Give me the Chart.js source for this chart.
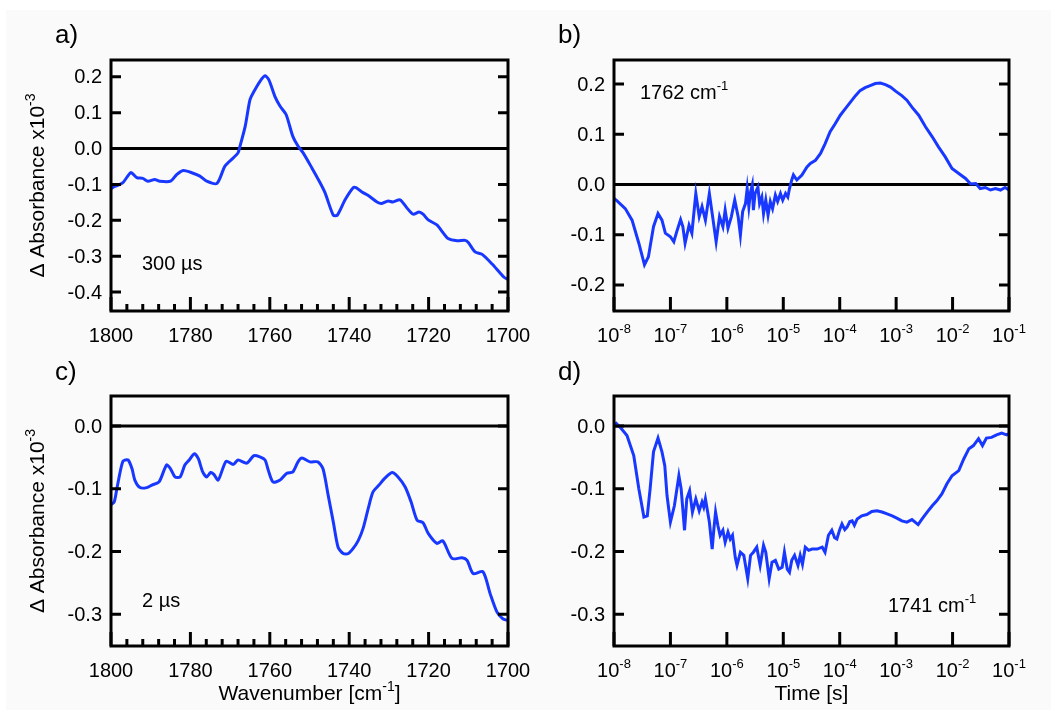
<!DOCTYPE html>
<html>
<head>
<meta charset="utf-8">
<title>Delta absorbance panels</title>
<script src="https://cdn.jsdelivr.net/npm/chart.js@4.4.0/dist/chart.umd.min.js"></script>
<style>
  html, body { margin: 0; padding: 0; background: #fff; }
  #page { position: relative; width: 1051px; height: 710px; background: #fff; overflow: hidden; }
  #sheet { position: absolute; left: 6px; top: 10px; right: 0; bottom: 0; background: #fafafa; }
  canvas { position: absolute; }
</style>
</head>
<body>
<div id="page">
  <div id="sheet"></div>
  <canvas id="chartB" width="526" height="355" style="left:525px;top:0"></canvas>
  <canvas id="chartD" width="526" height="355" style="left:525px;top:355px"></canvas>
  <canvas id="chartA" width="560" height="355" style="left:0;top:0"></canvas>
  <canvas id="chartC" width="560" height="355" style="left:0;top:355px"></canvas>
</div>
<script>
// a) spectrum at 300 µs
const wnA = [
  1800, 1799.5, 1797, 1795, 1793.5, 1792, 1790.7, 1789, 1787.7, 1785,
  1783.4, 1781.8, 1780, 1777.6, 1775.9, 1773.3, 1771.3, 1769.2, 1768, 1767.5,
  1766.2, 1765, 1764, 1762.5, 1761.2, 1760.2, 1758.7, 1757.4, 1755.9, 1754.2,
  1752.9, 1751.6, 1749.4, 1747.4, 1746.1, 1744, 1743, 1741, 1739, 1738.3,
  1736.8, 1735.2, 1733, 1731.8, 1730.2, 1729, 1727.2, 1725.5, 1723.9, 1722.4,
  1721.4, 1720.1, 1717.9, 1716.4, 1715.1, 1712.8, 1710.8, 1710, 1708.3, 1706.5,
  1704, 1701, 1700
];
const absA = [
  -0.112, -0.108, -0.095, -0.067, -0.081, -0.083, -0.091, -0.086, -0.091, -0.091,
  -0.072, -0.061, -0.066, -0.077, -0.091, -0.097, -0.049, -0.026, -0.012, 0.007,
  0.062, 0.136, 0.159, 0.187, 0.203, 0.191, 0.145, 0.118, 0.095, 0.034,
  0.007, -0.012, -0.054, -0.094, -0.123, -0.186, -0.186, -0.142, -0.109, -0.109,
  -0.121, -0.131, -0.149, -0.153, -0.146, -0.149, -0.143, -0.165, -0.183, -0.177,
  -0.183, -0.199, -0.213, -0.234, -0.251, -0.257, -0.256, -0.262, -0.288, -0.295,
  -0.322, -0.359, -0.365
];

// c) spectrum at 2 µs
const wnC = [
  1800, 1799.2, 1798.5, 1797, 1795.7, 1794.7, 1794, 1792.7, 1791, 1789.7,
  1787.9, 1786, 1785, 1783.9, 1782.6, 1781.4, 1780.3, 1779, 1778, 1776.9,
  1775.9, 1774.9, 1774.1, 1773, 1771, 1769.2, 1768, 1765.8, 1764, 1762.5,
  1761.2, 1760.4, 1759.2, 1757.4, 1755.7, 1754.2, 1752.9, 1751.9, 1749.9, 1747.9,
  1746.6, 1745.3, 1744, 1742.8, 1741.5, 1740.2, 1739, 1737.7, 1736.5, 1735.2,
  1734, 1732.5, 1731, 1729.2, 1727.7, 1725.9, 1724.4, 1722.9, 1721.4, 1720.1,
  1717.9, 1716.4, 1714.1, 1711.6, 1710.3, 1708.8, 1706.3, 1704.5, 1702.8, 1701.3,
  1700
];
const absC = [
  -0.125, -0.121, -0.099, -0.056, -0.054, -0.068, -0.086, -0.098, -0.098, -0.094,
  -0.089, -0.062, -0.068, -0.081, -0.081, -0.062, -0.054, -0.044, -0.052, -0.073,
  -0.081, -0.074, -0.077, -0.086, -0.056, -0.061, -0.054, -0.059, -0.047, -0.049,
  -0.054, -0.070, -0.089, -0.086, -0.075, -0.073, -0.057, -0.051, -0.057, -0.057,
  -0.068, -0.110, -0.153, -0.193, -0.203, -0.203, -0.195, -0.182, -0.163, -0.131,
  -0.105, -0.094, -0.083, -0.074, -0.081, -0.097, -0.121, -0.150, -0.154, -0.171,
  -0.187, -0.183, -0.211, -0.210, -0.214, -0.235, -0.232, -0.267, -0.296, -0.307,
  -0.310
];

// b) kinetics at 1762 cm-1 (time as log10 of seconds)
const logTimeB = [
  -8.00, -7.95, -7.80, -7.68, -7.56, -7.46, -7.39, -7.30, -7.22, -7.15,
  -7.09, -7.00, -6.94, -6.88, -6.82, -6.78, -6.74, -6.67, -6.62, -6.55,
  -6.49, -6.44, -6.38, -6.31, -6.26, -6.19, -6.13, -6.07, -6.03, -5.98,
  -5.92, -5.86, -5.80, -5.76, -5.72, -5.67, -5.64, -5.61, -5.58, -5.55,
  -5.53, -5.50, -5.45, -5.42, -5.38, -5.35, -5.31, -5.27, -5.23, -5.19,
  -5.14, -5.10, -5.05, -5.01, -4.96, -4.92, -4.89, -4.85, -4.82, -4.76,
  -4.67, -4.58, -4.52, -4.43, -4.34, -4.26, -4.17, -4.08, -3.99, -3.90,
  -3.81, -3.72, -3.64, -3.55, -3.46, -3.37, -3.28, -3.19, -3.10, -3.01,
  -2.90, -2.81, -2.72, -2.60, -2.48, -2.36, -2.25, -2.13, -2.01, -1.89,
  -1.77, -1.68, -1.59, -1.51, -1.42, -1.33, -1.24, -1.15, -1.07, -1.00
];
const absB = [
  -0.028, -0.032, -0.048, -0.071, -0.117, -0.160, -0.144, -0.084, -0.058, -0.071,
  -0.097, -0.104, -0.114, -0.091, -0.070, -0.084, -0.117, -0.081, -0.097, -0.018,
  -0.064, -0.044, -0.071, -0.018, -0.058, -0.114, -0.064, -0.084, -0.051, -0.087,
  -0.064, -0.031, -0.064, -0.101, -0.054, -0.038, -0.008, -0.044, -0.015, -0.001,
  -0.051, -0.018, -0.005, -0.038, -0.025, -0.058, -0.031, -0.061, -0.034, -0.048,
  -0.021, -0.034, -0.018, -0.031, -0.018, -0.025, -0.008, 0.009, 0.019, 0.009,
  0.019, 0.035, 0.042, 0.048, 0.062, 0.081, 0.105, 0.121, 0.138, 0.151,
  0.164, 0.177, 0.187, 0.193, 0.197, 0.201, 0.202, 0.199, 0.194, 0.186,
  0.177, 0.168, 0.154, 0.138, 0.115, 0.095, 0.075, 0.055, 0.032, 0.022,
  0.012, 0.001, 0.002, -0.008, -0.006, -0.011, -0.008, -0.011, -0.006, -0.011
];

// d) kinetics at 1741 cm-1
const logTimeD = [
  -7.98, -7.89, -7.77, -7.65, -7.56, -7.47, -7.41, -7.36, -7.30, -7.22,
  -7.15, -7.10, -7.06, -7.00, -6.93, -6.85, -6.81, -6.75, -6.71, -6.66,
  -6.61, -6.55, -6.49, -6.44, -6.41, -6.38, -6.34, -6.31, -6.26, -6.23,
  -6.20, -6.16, -6.12, -6.07, -6.03, -5.98, -5.94, -5.90, -5.85, -5.82,
  -5.76, -5.70, -5.63, -5.58, -5.53, -5.47, -5.41, -5.35, -5.31, -5.25,
  -5.20, -5.14, -5.08, -5.02, -4.98, -4.93, -4.89, -4.85, -4.80, -4.74,
  -4.70, -4.66, -4.61, -4.55, -4.49, -4.40, -4.31, -4.26, -4.20, -4.14,
  -4.09, -4.05, -4.00, -3.96, -3.91, -3.87, -3.82, -3.78, -3.74, -3.69,
  -3.61, -3.52, -3.43, -3.34, -3.25, -3.16, -3.07, -2.98, -2.90, -2.81,
  -2.72, -2.61, -2.54, -2.45, -2.36, -2.28, -2.19, -2.10, -2.01, -1.89,
  -1.80, -1.71, -1.63, -1.54, -1.47, -1.40, -1.31, -1.22, -1.13, -1.04,
  -1.00
];
const absD = [
  0.006, -0.002, -0.015, -0.047, -0.100, -0.145, -0.143, -0.100, -0.041, -0.019,
  -0.041, -0.063, -0.111, -0.153, -0.127, -0.079, -0.100, -0.166, -0.116, -0.103,
  -0.137, -0.116, -0.135, -0.121, -0.129, -0.116, -0.137, -0.153, -0.196, -0.164,
  -0.137, -0.158, -0.174, -0.166, -0.185, -0.169, -0.180, -0.174, -0.210, -0.222,
  -0.201, -0.206, -0.243, -0.206, -0.201, -0.193, -0.222, -0.190, -0.201, -0.243,
  -0.217, -0.214, -0.228, -0.225, -0.201, -0.228, -0.233, -0.214, -0.206, -0.222,
  -0.206, -0.220, -0.193, -0.198, -0.196, -0.196, -0.193, -0.201, -0.174, -0.166,
  -0.178, -0.180, -0.165, -0.156, -0.165, -0.161, -0.152, -0.151, -0.158, -0.148,
  -0.143, -0.141, -0.136, -0.135, -0.137, -0.140, -0.143, -0.147, -0.151, -0.153,
  -0.149, -0.157, -0.148, -0.137, -0.127, -0.119, -0.108, -0.092, -0.079, -0.071,
  -0.052, -0.036, -0.031, -0.020, -0.031, -0.019, -0.018, -0.014, -0.011, -0.014,
  -0.012
];

// tick labels
const yTicksA = [0.2, 0.1, 0.0, -0.1, -0.2, -0.3, -0.4];
const yTicksB = [0.2, 0.1, 0.0, -0.1, -0.2];
const yTicksCD = [0.0, -0.1, -0.2, -0.3];
const wnTicks = [1800, 1780, 1760, 1740, 1720, 1700];
const logTicks = [-8, -7, -6, -5, -4, -3, -2, -1];

const BLUE = '#1838ff';
const FONT = '"Liberation Sans", Arial, sans-serif';

// draws a run of text pieces, some raised as superscripts
function drawRich(ctx, parts, x, y, align) {
    let total = 0;
    parts.forEach(p => {
        ctx.font = p.size + 'px ' + FONT;
        p.w = ctx.measureText(p.t).width;
        total += p.w;
    });
    let cx = x;
    if (align === 'center') cx = x - total / 2;
    if (align === 'right') cx = x - total;
    ctx.textAlign = 'left';
    ctx.textBaseline = 'alphabetic';
    parts.forEach(p => {
        ctx.font = p.size + 'px ' + FONT;
        ctx.fillText(p.t, cx, y - (p.rise || 0));
        cx += p.w;
    });
}

const panelDecor = {
    id: 'panelDecor',
    beforeDatasetsDraw(chart, args, o) {
        const { ctx, chartArea: a } = chart;
        const y0 = chart.scales.y.getPixelForValue(0);
        ctx.save();
        ctx.strokeStyle = '#000';
        ctx.lineWidth = 3;
        ctx.beginPath();
        ctx.moveTo(a.left, y0);
        ctx.lineTo(a.right, y0);
        ctx.stroke();
        ctx.restore();
    },
    afterDatasetsDraw(chart, args, o) {
        const { ctx, chartArea: a } = chart;
        const xs = chart.scales.x, ys = chart.scales.y;
        ctx.save();
        ctx.strokeStyle = '#000';
        ctx.fillStyle = '#000';
        ctx.lineCap = 'butt';

        // y ticks, inward on both sides, labels on the left
        ctx.lineWidth = 3;
        o.yTicks.forEach(v => {
            const py = ys.getPixelForValue(v);
            ctx.beginPath();
            ctx.moveTo(a.left, py); ctx.lineTo(a.left + 10, py);
            ctx.moveTo(a.right, py); ctx.lineTo(a.right - 10, py);
            ctx.stroke();
            ctx.font = '20px ' + FONT;
            ctx.textAlign = 'right';
            ctx.textBaseline = 'middle';
            ctx.fillText(v.toFixed(1), a.left - 9, py + 1);
        });

        // x ticks
        if (o.log) {
            logTicks.forEach(e => {
                const px = xs.getPixelForValue(Math.pow(10, e));
                ctx.beginPath();
                ctx.moveTo(px, a.bottom); ctx.lineTo(px, a.bottom - 14);
                ctx.stroke();
                drawRich(ctx, [{ t: '10', size: 20 }, { t: String(e), size: 13, rise: 9 }],
                    px, a.bottom + 31, 'center');
            });
        } else {
            for (let w = 1800; w >= 1700; w -= 4) {
                const px = xs.getPixelForValue(w);
                const major = wnTicks.includes(w);
                ctx.beginPath();
                ctx.moveTo(px, a.bottom); ctx.lineTo(px, a.bottom - (major ? 14 : 7));
                ctx.stroke();
            }
            ctx.font = '20px ' + FONT;
            ctx.textAlign = 'center';
            ctx.textBaseline = 'alphabetic';
            wnTicks.forEach(w => {
                ctx.fillText(String(w), xs.getPixelForValue(w), a.bottom + 31);
            });
        }

        // frame
        ctx.lineWidth = 3;
        ctx.strokeRect(a.left, a.top, a.right - a.left, a.bottom - a.top);

        // panel letter
        ctx.font = '26px ' + FONT;
        ctx.textAlign = 'left';
        ctx.textBaseline = 'alphabetic';
        ctx.fillText(o.letter, o.letterPos[0], o.letterPos[1]);

        // annotation inside the plot
        drawRich(ctx, o.note, o.notePos[0], o.notePos[1], 'left');

        // y title
        if (o.yTitle) {
            ctx.save();
            ctx.translate(44, (a.top + a.bottom) / 2);
            ctx.rotate(-Math.PI / 2);
            drawRich(ctx, [{ t: '\u0394 Absorbance x10', size: 21 }, { t: '-3', size: 14, rise: 9 }], 0, 0, 'center');
            ctx.restore();
        }

        // x title
        if (o.xTitle) {
            drawRich(ctx, o.xTitle, (a.left + a.right) / 2, o.xTitleY, 'center');
        }
        ctx.restore();
    }
};

function makeChart(id, points, xScale, yMin, yMax, pad, decor, tension) {
    return new Chart(document.getElementById(id), {
        type: 'line',
        data: {
            datasets: [{
                data: points,
                borderColor: BLUE,
                borderWidth: 3,
                pointRadius: 0,
                tension: tension,
                fill: false
            }]
        },
        options: {
            responsive: false,
            animation: false,
            devicePixelRatio: 1,
            layout: { padding: pad },
            plugins: {
                legend: { display: false },
                tooltip: { enabled: false },
                panelDecor: decor
            },
            scales: {
                x: Object.assign({ display: false }, xScale),
                y: { type: 'linear', display: false, min: yMin, max: yMax }
            }
        },
        plugins: [panelDecor]
    });
}

const wnScale = { type: 'linear', min: 1700, max: 1800, reverse: true };
const logScale = { type: 'logarithmic', min: 1e-8, max: 1e-1 };

const ptsA = wnA.map((w, i) => ({ x: w, y: absA[i] }));
const ptsC = wnC.map((w, i) => ({ x: w, y: absC[i] }));
const ptsB = logTimeB.map((e, i) => ({ x: Math.pow(10, e), y: absB[i] }));
const ptsD = logTimeD.map((e, i) => ({ x: Math.pow(10, e), y: absD[i] }));

makeChart('chartA', ptsA, wnScale, -0.453, 0.247,
    { left: 111, top: 60, right: 52, bottom: 44 },
    { letter: 'a)', letterPos: [55, 43], yTicks: yTicksA, log: false, yTitle: true,
      note: [{ t: '300 \u00b5s', size: 20 }], notePos: [142, 270] }, 0.25);

makeChart('chartB', ptsB, logScale, -0.252, 0.248,
    { left: 89, top: 60, right: 42, bottom: 44 },
    { letter: 'b)', letterPos: [33, 43], yTicks: yTicksB, log: true, yTitle: false,
      note: [{ t: '1762 cm', size: 20 }, { t: '-1', size: 13, rise: 9 }], notePos: [115, 99] }, 0);

makeChart('chartC', ptsC, wnScale, -0.3505, 0.048,
    { left: 111, top: 41, right: 52, bottom: 64 },
    { letter: 'c)', letterPos: [55, 25], yTicks: yTicksCD, log: false, yTitle: true,
      note: [{ t: '2 \u00b5s', size: 20 }], notePos: [142, 252],
      xTitle: [{ t: 'Wavenumber [cm', size: 21 }, { t: '-1', size: 14, rise: 9 }, { t: ']', size: 21 }], xTitleY: 345 }, 0.25);

makeChart('chartD', ptsD, logScale, -0.3505, 0.048,
    { left: 89, top: 41, right: 42, bottom: 64 },
    { letter: 'd)', letterPos: [33, 25], yTicks: yTicksCD, log: true, yTitle: false,
      note: [{ t: '1741 cm', size: 20 }, { t: '-1', size: 13, rise: 9 }], notePos: [363, 257],
      xTitle: [{ t: 'Time [s]', size: 21 }], xTitleY: 345 }, 0);
</script>
</body>
</html>
